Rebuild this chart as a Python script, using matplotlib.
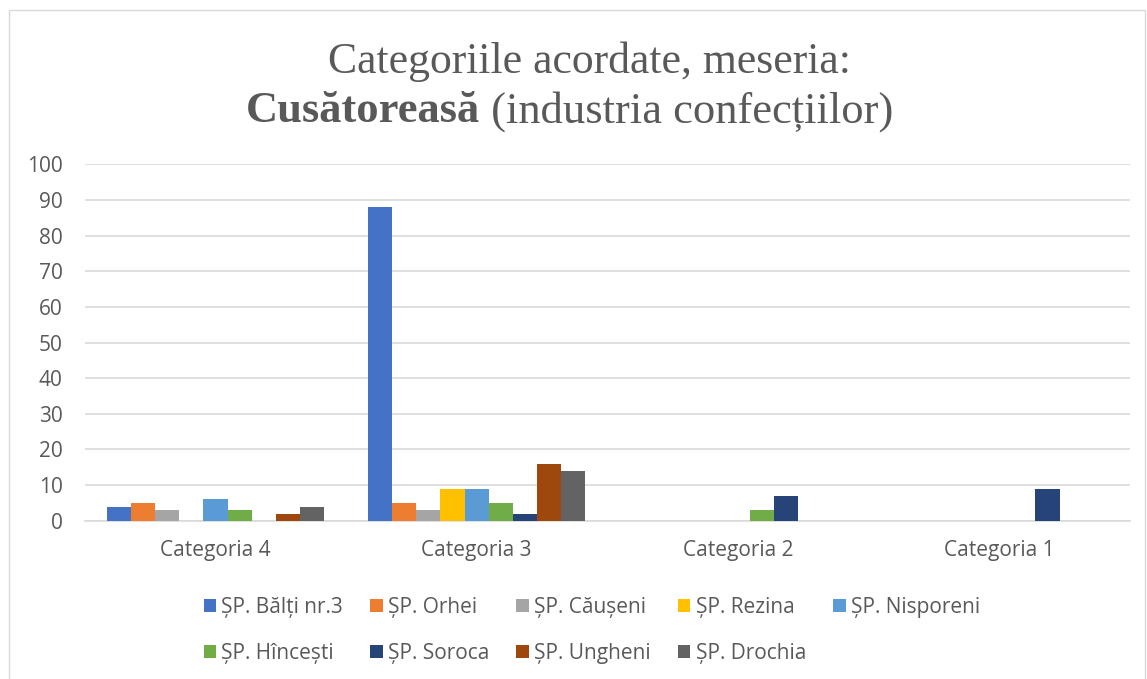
import matplotlib
matplotlib.use("Agg")
import matplotlib.pyplot as plt
from matplotlib.patches import Rectangle
import numpy as np

categories = ["Categoria 4", "Categoria 3", "Categoria 2", "Categoria 1"]
schools = ["ȘP. Bălți nr.3", "ȘP. Orhei", "ȘP. Căușeni", "ȘP. Rezina", "ȘP. Nisporeni",
           "ȘP. Hîncești", "ȘP. Soroca", "ȘP. Ungheni", "ȘP. Drochia"]
balti = [4, 88, 0, 0]
orhei = [5, 5, 0, 0]
causeni = [3, 3, 0, 0]
rezina = [0, 9, 0, 0]
nisporeni = [6, 9, 0, 0]
hincesti = [3, 5, 3, 0]
soroca = [0, 2, 7, 9]
ungheni = [2, 16, 0, 0]
drochia = [4, 14, 0, 0]
colors = ["#4472C4", "#ED7D31", "#A5A5A5", "#FFC000", "#5B9BD5",
          "#70AD47", "#264478", "#9E480E", "#636363"]

series = [balti, orhei, causeni, rezina, nisporeni, hincesti, soroca, ungheni, drochia]

sans = ["Open Sans", "DejaVu Sans"]
serif = ["Liberation Serif", "DejaVu Serif"]
txt = "#595959"

fig = plt.figure(figsize=(11.47, 6.79), dpi=100)
ax = fig.add_axes([0.074, 0.233, 0.911, 0.525])

x = np.arange(len(categories))
w = 0.0925
for i, vals in enumerate(series):
    ax.bar(x + (i - 4) * w, vals, width=w, color=colors[i], label=schools[i], zorder=3)

ax.set_xlim(-0.5, 3.5)
ax.set_ylim(0, 100)
ax.set_yticks(range(0, 101, 10))
ax.set_xticks(x)
ax.set_xticklabels(categories)
ax.grid(axis="y", color="#d9d9d9", linewidth=1.2, zorder=0)
for s in ["top", "right", "left"]:
    ax.spines[s].set_visible(False)
ax.spines["bottom"].set_color("#d9d9d9")
ax.spines["bottom"].set_linewidth(1.2)
ax.tick_params(length=0, labelcolor=txt, labelsize=15)
ax.tick_params(axis="x", pad=14)
ax.tick_params(axis="y", pad=16)
for lab in ax.get_xticklabels() + ax.get_yticklabels():
    lab.set_family(sans)

# legend is filled column by column, so reorder to get row-major order
handles, labels = ax.get_legend_handles_labels()
order = [0, 5, 1, 6, 2, 7, 3, 8, 4]
leg = fig.legend([handles[k] for k in order], [labels[k] for k in order],
                 loc="center", bbox_to_anchor=(0.516, 0.072), ncol=5, frameon=False,
                 prop={"family": sans, "size": 15}, handlelength=0.6, handleheight=0.6,
                 handletextpad=0.25, columnspacing=1.3, labelspacing=1.2)
for t in leg.get_texts():
    t.set_color(txt)

# title
fig.text(0.514, 0.909, "Categoriile acordate, meseria:", ha="center", va="center",
         family=serif, fontsize=31.5, color=txt)
fig.canvas.draw()
r = fig.canvas.get_renderer()
t1 = fig.text(0, 0.836, "Cusătoreasă", ha="left", va="center", family=serif,
              fontsize=32, fontweight="bold", color=txt)
t2 = fig.text(0, 0.836, " (industria confecțiilor)", ha="left", va="center",
              family=serif, fontsize=32, color=txt)
w1 = t1.get_window_extent(r).width / fig.bbox.width
w2 = t2.get_window_extent(r).width / fig.bbox.width
x0 = 0.497 - (w1 + w2) / 2
t1.set_x(x0)
t2.set_x(x0 + w1)

fig.patches.append(Rectangle((9 / 1147, -0.01), 1136 / 1147, 1 - 10 / 679 + 0.01,
                             transform=fig.transFigure, fill=False,
                             edgecolor="#d9d9d9", linewidth=1))

fig.savefig("out.png", dpi=100)
